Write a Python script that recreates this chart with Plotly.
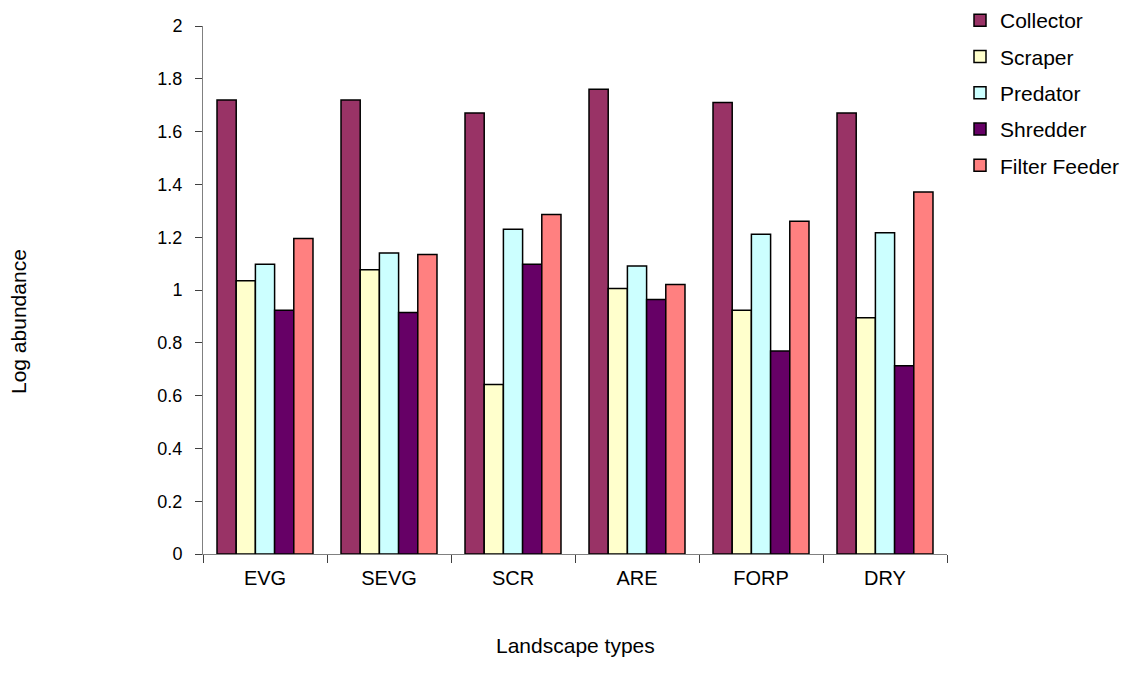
import plotly.graph_objects as go

categories = ["EVG", "SEVG", "SCR", "ARE", "FORP", "DRY"]
collector = [1.72, 1.72, 1.67, 1.76, 1.71, 1.67]
scraper = [1.035, 1.077, 0.642, 1.006, 0.923, 0.895]
predator = [1.098, 1.140, 1.230, 1.091, 1.211, 1.217]
shredder = [0.923, 0.915, 1.098, 0.964, 0.769, 0.713]
filter_feeder = [1.195, 1.134, 1.286, 1.021, 1.260, 1.371]

series = [
    ("Collector", collector, "#993366"),
    ("Scraper", scraper, "#FFFFCC"),
    ("Predator", predator, "#CCFFFF"),
    ("Shredder", shredder, "#660066"),
    ("Filter Feeder", filter_feeder, "#FF8080"),
]

# page body has an 8px margin, so figure coordinates = screen - 8
OFF = 8
W, H = 1128 - OFF, 686 - OFF
L, T = 203 - OFF, 26 - OFF
PW, PH = 744, 528

font = "Liberation Sans, Arial, sans-serif"
fig = go.Figure()
for name, vals, color in series:
    fig.add_trace(go.Bar(
        x=categories, y=vals, name=name, legendgroup=name,
        marker=dict(color=color, line=dict(color="black", width=1.5)),
    ))

def px_x(sx):
    return (sx - OFF - L) / PW

def px_y(sy):
    return (T + PH - (sy - OFF)) / PH

fig.update_layout(
    width=W, height=H,
    paper_bgcolor="white", plot_bgcolor="white",
    barmode="group", bargap=0.226, bargroupgap=0,
    margin=dict(l=L, r=W - L - PW, t=T, b=H - T - PH, autoexpand=False),
    font=dict(family=font, size=18, color="black"),
    showlegend=True,
    legend=dict(x=px_x(960), y=px_y(0), xanchor="left", yanchor="top",
                font=dict(size=21), tracegroupgap=6, bgcolor="rgba(0,0,0,0)"),
    xaxis=dict(
        automargin=False,
        showline=True, linecolor="#808080", linewidth=1,
        ticks="outside", tickson="boundaries", ticklen=8, tickcolor="#404040",
        showgrid=False, tickfont=dict(size=20), ticklabelstandoff=6,
    ),
    yaxis=dict(
        automargin=False,
        range=[0, 2], dtick=0.2, tick0=0,
        showline=True, linecolor="#808080", linewidth=1,
        ticks="outside", ticklen=7, tickcolor="#404040",
        showgrid=False, zeroline=False, tickfont=dict(size=18),
        ticklabelstandoff=9,
    ),
    annotations=[
        dict(text="Landscape types", x=px_x(575), y=px_y(645), xref="paper", yref="paper",
             xanchor="center", yanchor="middle",
             showarrow=False, font=dict(size=21)),
        dict(text="Log abundance", x=px_x(18), y=px_y(322), xref="paper", yref="paper",
             xanchor="center", yanchor="middle",
             textangle=-90, showarrow=False, font=dict(size=21)),
    ],
)

fig.write_html("out.html")
